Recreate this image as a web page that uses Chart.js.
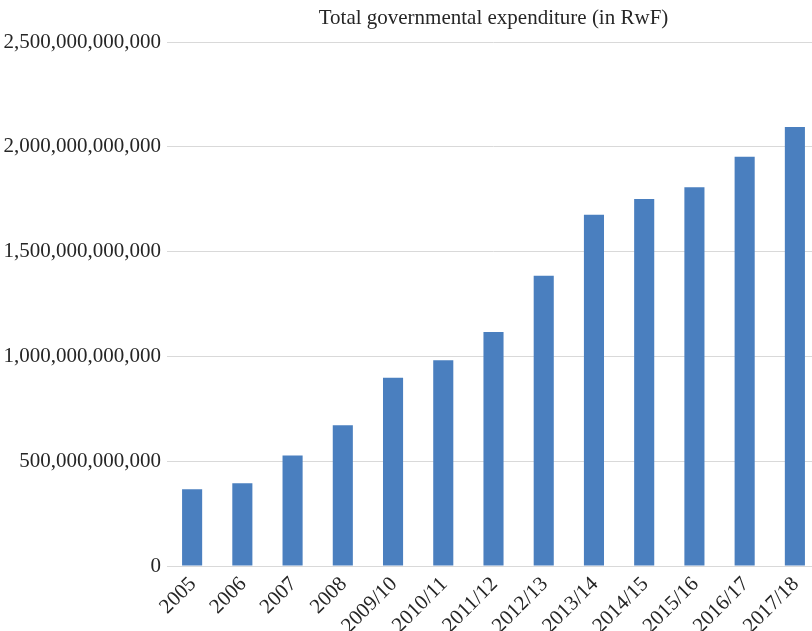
<!DOCTYPE html>
<html>
<head>
<meta charset="utf-8">
<script src="https://cdn.jsdelivr.net/npm/chart.js@4"></script>
<style>
  html, body { margin: 0; padding: 0; background: #fff; overflow: hidden; }
  #wrap { position: relative; width: 820px; height: 631px; }
</style>
</head>
<body>
<div id="wrap"><canvas id="expenditureChart"></canvas></div>
<script>
const chartTitle = 'Total governmental expenditure (in RwF)';

const years = [
  '2005', '2006', '2007', '2008', '2009/10', '2010/11', '2011/12',
  '2012/13', '2013/14', '2014/15', '2015/16', '2016/17', '2017/18',
];

// in RwF
const expenditure = [
  366e9, 395e9, 527e9, 672e9, 898e9, 982e9, 1116e9,
  1385e9, 1676e9, 1751e9, 1807e9, 1952e9, 2094e9,
];

const yMax = 2500e9;
const yStep = 500e9;

const serif = '"Liberation Serif", "DejaVu Serif", serif';

// title is centred over the plot area, like the original
const centredTitle = {
  id: 'centredTitle',
  afterDraw(chart) {
    const { ctx, chartArea } = chart;
    ctx.save();
    ctx.font = '21px ' + serif;
    ctx.fillStyle = '#262626';
    ctx.textAlign = 'center';
    ctx.textBaseline = 'middle';
    ctx.fillText(chartTitle, (chartArea.left + chartArea.right) / 2, 18);
    ctx.restore();
  },
};

const ctx = document.getElementById('expenditureChart');

new Chart(ctx, {
  type: 'bar',
  data: {
    labels: years,
    datasets: [
      {
        label: chartTitle,
        data: expenditure,
        backgroundColor: '#4a7fbf',
        borderWidth: 0,
        categoryPercentage: 0.4,
        barPercentage: 1.0,
      },
    ],
  },
  options: {
    responsive: true,
    maintainAspectRatio: false,
    animation: false,
    layout: {
      padding: { top: 42, left: 4, right: 0, bottom: 0 },
    },
    plugins: {
      legend: { display: false },
      title: { display: false },
      tooltip: { enabled: false },
    },
    scales: {
      x: {
        afterFit: (scale) => { scale.height = 65; },
        grid: { display: false, drawTicks: false },
        border: { color: '#d9d9d9', width: 1 },
        ticks: {
          color: '#262626',
          font: { family: serif, size: 21 },
          maxRotation: 45,
          minRotation: 45,
          autoSkip: false,
          padding: 6,
          labelOffset: 1,
        },
      },
      y: {
        min: 0,
        max: yMax,
        afterFit: (scale) => { scale.width = 163; },
        grid: { color: '#d9d9d9', lineWidth: 1, drawTicks: false },
        border: { display: false },
        ticks: {
          stepSize: yStep,
          color: '#262626',
          font: { family: serif, size: 21 },
          padding: 6,
          callback: (value) => value.toLocaleString('en-US'),
        },
      },
    },
  },
  plugins: [centredTitle],
});
</script>
</body>
</html>
